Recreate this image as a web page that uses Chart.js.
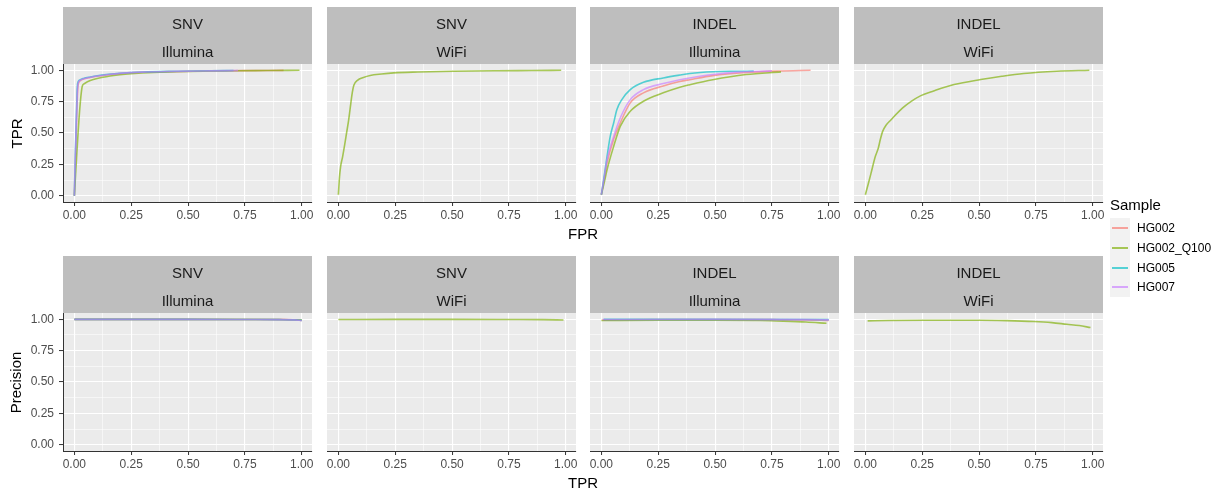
<!DOCTYPE html>
<html>
<head>
<meta charset="utf-8">
<script src="https://cdn.jsdelivr.net/npm/chart.js@4.4.1/dist/chart.umd.min.js"></script>
<style>
  body { margin: 0; background: #fff; width: 1224px; height: 490px; overflow: hidden; position: relative;
         font-family: "Liberation Sans", Arial, sans-serif; }
  canvas.panel { position: absolute; }
  .lbl { position: absolute; white-space: nowrap; line-height: 1; color: #000; }
</style>
</head>
<body>
<script>
// samples + ggplot hue colours
const samples = ['HG002', 'HG002_Q100', 'HG005', 'HG007'];
const sampleColors = ['#F8766D', '#7CAE00', '#00BFC4', '#C77CFF'];
const drawOrder = [3, 2, 1, 0]; // HG007 on top like ggplot

// facet strips
const variantTypes = ['SNV', 'SNV', 'INDEL', 'INDEL'];
const platforms = ['Illumina', 'WiFi', 'Illumina', 'WiFi'];

// axis ticks (shared by every panel)
const majorTicks = [0, 0.25, 0.5, 0.75, 1];
const tickLabels = ['0.00', '0.25', '0.50', '0.75', '1.00'];
const minorTicks = [0.125, 0.375, 0.625, 0.875];

// ---- ROC: [FPR, TPR] ----
const rocSnvIllumina_HG002 = [[0,0],[0.005,0.3],[0.01,0.62],[0.015,0.86],[0.019,0.9],[0.027,0.918],[0.04,0.93],[0.07,0.943],[0.1,0.953],[0.15,0.964],[0.2,0.973],[0.3,0.984],[0.45,0.99],[0.6,0.994],[0.75,0.997],[0.92,0.999]];
const rocSnvIllumina_Q100 = [[0,0],[0.008,0.25],[0.018,0.55],[0.028,0.78],[0.035,0.875],[0.045,0.895],[0.07,0.918],[0.1,0.935],[0.15,0.952],[0.2,0.964],[0.25,0.972],[0.35,0.982],[0.5,0.99],[0.7,0.996],[0.85,0.998],[0.99,1.0]];
const rocSnvIllumina_HG005 = [[0,0],[0.004,0.32],[0.009,0.64],[0.013,0.87],[0.017,0.91],[0.025,0.924],[0.04,0.935],[0.07,0.947],[0.1,0.957],[0.15,0.968],[0.2,0.976],[0.3,0.986],[0.45,0.992],[0.6,0.996],[0.7,0.998]];
const rocSnvIllumina_HG007 = [[0,0],[0.004,0.3],[0.009,0.62],[0.014,0.86],[0.018,0.905],[0.025,0.92],[0.04,0.932],[0.07,0.945],[0.1,0.955],[0.15,0.966],[0.2,0.975],[0.3,0.985],[0.45,0.991],[0.6,0.995],[0.72,0.998]];

const rocSnvWifi_Q100 = [[0,0.008],[0.005,0.15],[0.01,0.234],[0.019,0.314],[0.028,0.41],[0.036,0.5],[0.045,0.6],[0.055,0.74],[0.061,0.82],[0.068,0.88],[0.084,0.92],[0.11,0.942],[0.14,0.958],[0.19,0.97],[0.243,0.979],[0.35,0.986],[0.508,0.992],[0.7,0.996],[0.85,0.998],[0.98,1.0]];

const rocIndelIllumina_HG002 = [[0,0.008],[0.012,0.13],[0.025,0.26],[0.054,0.45],[0.083,0.58],[0.127,0.74],[0.185,0.82],[0.272,0.875],[0.345,0.91],[0.389,0.925],[0.49,0.957],[0.636,0.982],[0.78,0.994],[0.92,1.0]];
const rocIndelIllumina_Q100 = [[0,0.008],[0.012,0.1],[0.025,0.207],[0.054,0.393],[0.083,0.553],[0.127,0.673],[0.185,0.753],[0.272,0.82],[0.345,0.865],[0.389,0.885],[0.49,0.925],[0.636,0.966],[0.79,0.987]];
const rocIndelIllumina_HG005 = [[0,0.008],[0.012,0.15],[0.025,0.314],[0.039,0.473],[0.054,0.58],[0.068,0.686],[0.09,0.766],[0.127,0.846],[0.185,0.904],[0.272,0.939],[0.345,0.962],[0.389,0.974],[0.49,0.988],[0.58,0.992],[0.67,0.993]];
const rocIndelIllumina_HG007 = [[0,0.008],[0.012,0.14],[0.025,0.29],[0.054,0.473],[0.083,0.62],[0.127,0.766],[0.185,0.846],[0.272,0.894],[0.345,0.925],[0.389,0.939],[0.49,0.966],[0.6,0.985],[0.75,0.995]];

const rocIndelWifi_Q100 = [[0,0.008],[0.012,0.09],[0.025,0.18],[0.044,0.314],[0.057,0.38],[0.066,0.45],[0.076,0.513],[0.09,0.56],[0.113,0.606],[0.164,0.7],[0.2,0.75],[0.244,0.798],[0.3,0.835],[0.39,0.886],[0.507,0.926],[0.6,0.952],[0.696,0.974],[0.842,0.992],[0.985,1.0]];

// ---- Precision vs TPR ----
const prSnvIllumina_HG002 = [[0,0.999],[0.25,0.999],[0.5,0.999],[0.75,0.998],[0.9,0.997],[0.97,0.995],[1.0,0.99]];
const prSnvIllumina_Q100 = [[0,0.999],[0.5,0.999],[0.9,0.998],[1.0,0.995]];
const prSnvIllumina_HG005 = [[0,0.999],[0.25,0.999],[0.5,0.999],[0.75,0.998],[0.9,0.997],[0.97,0.995],[1.0,0.991]];
const prSnvIllumina_HG007 = [[0,0.999],[0.25,0.999],[0.5,0.999],[0.75,0.998],[0.9,0.997],[0.97,0.995],[1.0,0.99]];

const prSnvWifi_Q100 = [[0,0.998],[0.25,0.999],[0.5,0.999],[0.75,0.998],[0.9,0.997],[0.99,0.994]];

const prIndelIllumina_HG002 = [[0.005,0.995],[0.25,0.998],[0.5,0.998],[0.75,0.997],[0.9,0.995],[1.0,0.99]];
const prIndelIllumina_Q100 = [[0,0.99],[0.25,0.993],[0.5,0.993],[0.7,0.99],[0.8,0.985],[0.9,0.978],[0.99,0.968]];
const prIndelIllumina_HG005 = [[0.01,0.999],[0.5,0.999],[0.9,0.998],[1.0,0.997]];
const prIndelIllumina_HG007 = [[0.005,0.998],[0.5,0.999],[0.9,0.997],[1.0,0.995]];

const prIndelWifi_Q100 = [[0.01,0.987],[0.1,0.99],[0.26,0.992],[0.507,0.992],[0.62,0.989],[0.74,0.982],[0.82,0.973],[0.886,0.96],[0.94,0.95],[0.99,0.934]];

// [sample index, points] per panel
const rocPanels = [
  [[0, rocSnvIllumina_HG002], [1, rocSnvIllumina_Q100], [2, rocSnvIllumina_HG005], [3, rocSnvIllumina_HG007]],
  [[1, rocSnvWifi_Q100]],
  [[0, rocIndelIllumina_HG002], [1, rocIndelIllumina_Q100], [2, rocIndelIllumina_HG005], [3, rocIndelIllumina_HG007]],
  [[1, rocIndelWifi_Q100]]
];
const prPanels = [
  [[0, prSnvIllumina_HG002], [1, prSnvIllumina_Q100], [2, prSnvIllumina_HG005], [3, prSnvIllumina_HG007]],
  [[1, prSnvWifi_Q100]],
  [[0, prIndelIllumina_HG002], [1, prIndelIllumina_Q100], [2, prIndelIllumina_HG005], [3, prIndelIllumina_HG007]],
  [[1, prIndelWifi_Q100]]
];

// layout (px)
const panelLeft = [63, 327, 590, 854];
const panelW = 249, panelH = 138, stripH = 57;
const plotTop = [64, 313];
const yAxisW = 50, xAxisH = 24, padRight = 14;
const FONT = '"Liberation Sans", Arial, sans-serif';
const LINE_ALPHA = 0.65;

Chart.defaults.font.family = FONT;

function rgba(hex, a) {
  const n = parseInt(hex.slice(1), 16);
  return `rgba(${n >> 16},${(n >> 8) & 255},${n & 255},${a})`;
}
const isMajor = v => majorTicks.includes(v);
const allTicks = majorTicks.concat(minorTicks).sort((a, b) => a - b);

const panelDeco = {
  id: 'panelDeco',
  beforeDraw(chart, args, opts) {
    const { ctx, chartArea: a } = chart;
    ctx.save();
    ctx.fillStyle = '#EBEBEB';
    ctx.fillRect(a.left, a.top, a.right - a.left, a.bottom - a.top);
    ctx.fillStyle = '#BEBEBE';
    ctx.fillRect(a.left, a.top - stripH, a.right - a.left, stripH);
    ctx.fillStyle = '#1A1A1A';
    ctx.font = '15px ' + FONT;
    ctx.textAlign = 'center';
    ctx.textBaseline = 'middle';
    const cx = (a.left + a.right) / 2;
    ctx.fillText(opts.top, cx, a.top - stripH + 17.5);
    ctx.fillText(opts.bottom, cx, a.top - stripH + 46);
    ctx.restore();
  }
};

function axis(showLabels) {
  return {
    type: 'linear',
    afterBuildTicks: s => { s.ticks = allTicks.map(v => ({ value: v })); },
    ticks: {
      display: showLabels,
      autoSkip: false, maxRotation: 0,
      color: '#4D4D4D', font: { size: 12 },
      callback: v => isMajor(v) ? tickLabels[majorTicks.indexOf(v)] : ''
    },
    grid: {
      color: '#FFFFFF',
      lineWidth: c => (c.tick && isMajor(c.tick.value)) ? 1.1 : 0.55,
      drawTicks: showLabels,
      tickLength: 4,
      tickWidth: 1,
      tickColor: c => (c.tick && isMajor(c.tick.value)) ? '#333333' : 'rgba(0,0,0,0)'
    },
    border: { display: showLabels, color: '#333333', width: 1 }
  };
}

function makePanel(row, col, series) {
  const cv = document.createElement('canvas');
  cv.className = 'panel';
  cv.width = yAxisW + panelW + padRight;
  cv.height = stripH + panelH + xAxisH;
  cv.style.left = (panelLeft[col] - yAxisW) + 'px';
  cv.style.top = (plotTop[row] - stripH) + 'px';
  document.body.appendChild(cv);

  const xs = axis(true);
  xs.min = -0.05; xs.max = 1.045;
  xs.ticks.padding = 2;
  xs.afterFit = s => { s.height = xAxisH; };

  const ys = axis(col === 0);
  ys.min = -0.05; ys.max = 1.05;
  ys.ticks.padding = 5;
  ys.afterFit = s => { s.width = yAxisW; };

  new Chart(cv, {
    type: 'line',
    data: {
      datasets: series.map(([si, pts]) => ({
        label: samples[si],
        data: pts.map(p => ({ x: p[0], y: p[1] })),
        borderColor: rgba(sampleColors[si], LINE_ALPHA),
        borderWidth: 1.6,
        borderJoinStyle: 'round',
        pointRadius: 0,
        fill: false,
        cubicInterpolationMode: 'monotone',
        order: drawOrder[si]
      }))
    },
    options: {
      responsive: false,
      animation: false,
      events: [],
      layout: { padding: { top: stripH, right: padRight, left: 0, bottom: 0 } },
      plugins: {
        legend: { display: false },
        tooltip: { enabled: false },
        panelDeco: { top: variantTypes[col], bottom: platforms[col] }
      },
      scales: { x: xs, y: ys }
    },
    plugins: [panelDeco]
  });
}

rocPanels.forEach((s, c) => makePanel(0, c, s));
prPanels.forEach((s, c) => makePanel(1, c, s));

// axis titles
function label(text, x, y, size, rotate) {
  const d = document.createElement('div');
  d.className = 'lbl';
  d.textContent = text;
  d.style.fontSize = size + 'px';
  document.body.appendChild(d);
  const w = d.offsetWidth, h = d.offsetHeight;
  d.style.left = (x - w / 2) + 'px';
  d.style.top = (y - h / 2) + 'px';
  if (rotate) d.style.transform = 'rotate(-90deg)';
  return d;
}
const rowCenterX = (panelLeft[0] + panelLeft[3] + panelW) / 2;
label('FPR', rowCenterX, 233, 15);
label('TPR', rowCenterX, 482, 15);
label('TPR', 16, plotTop[0] + panelH / 2, 15, true);
label('Precision', 16, plotTop[1] + panelH / 2, 15, true);

// legend
label('Sample', 1136, 204, 15).style.left = '1110px';
const keyBox = document.createElement('div');
keyBox.style.cssText = 'position:absolute;left:1110px;top:218px;width:20px;height:79px;background:#F2F2F2';
document.body.appendChild(keyBox);
samples.forEach((name, i) => {
  const cy = 228 + i * 19.8;
  const ln = document.createElement('div');
  ln.style.cssText = `position:absolute;left:1112px;top:${Math.round(cy - 1)}px;width:16px;height:2px;background:${rgba(sampleColors[i], LINE_ALPHA)}`;
  document.body.appendChild(ln);
  const t = label(name, 0, cy, 12);
  t.style.left = '1137px';
});
</script>
</body>
</html>
